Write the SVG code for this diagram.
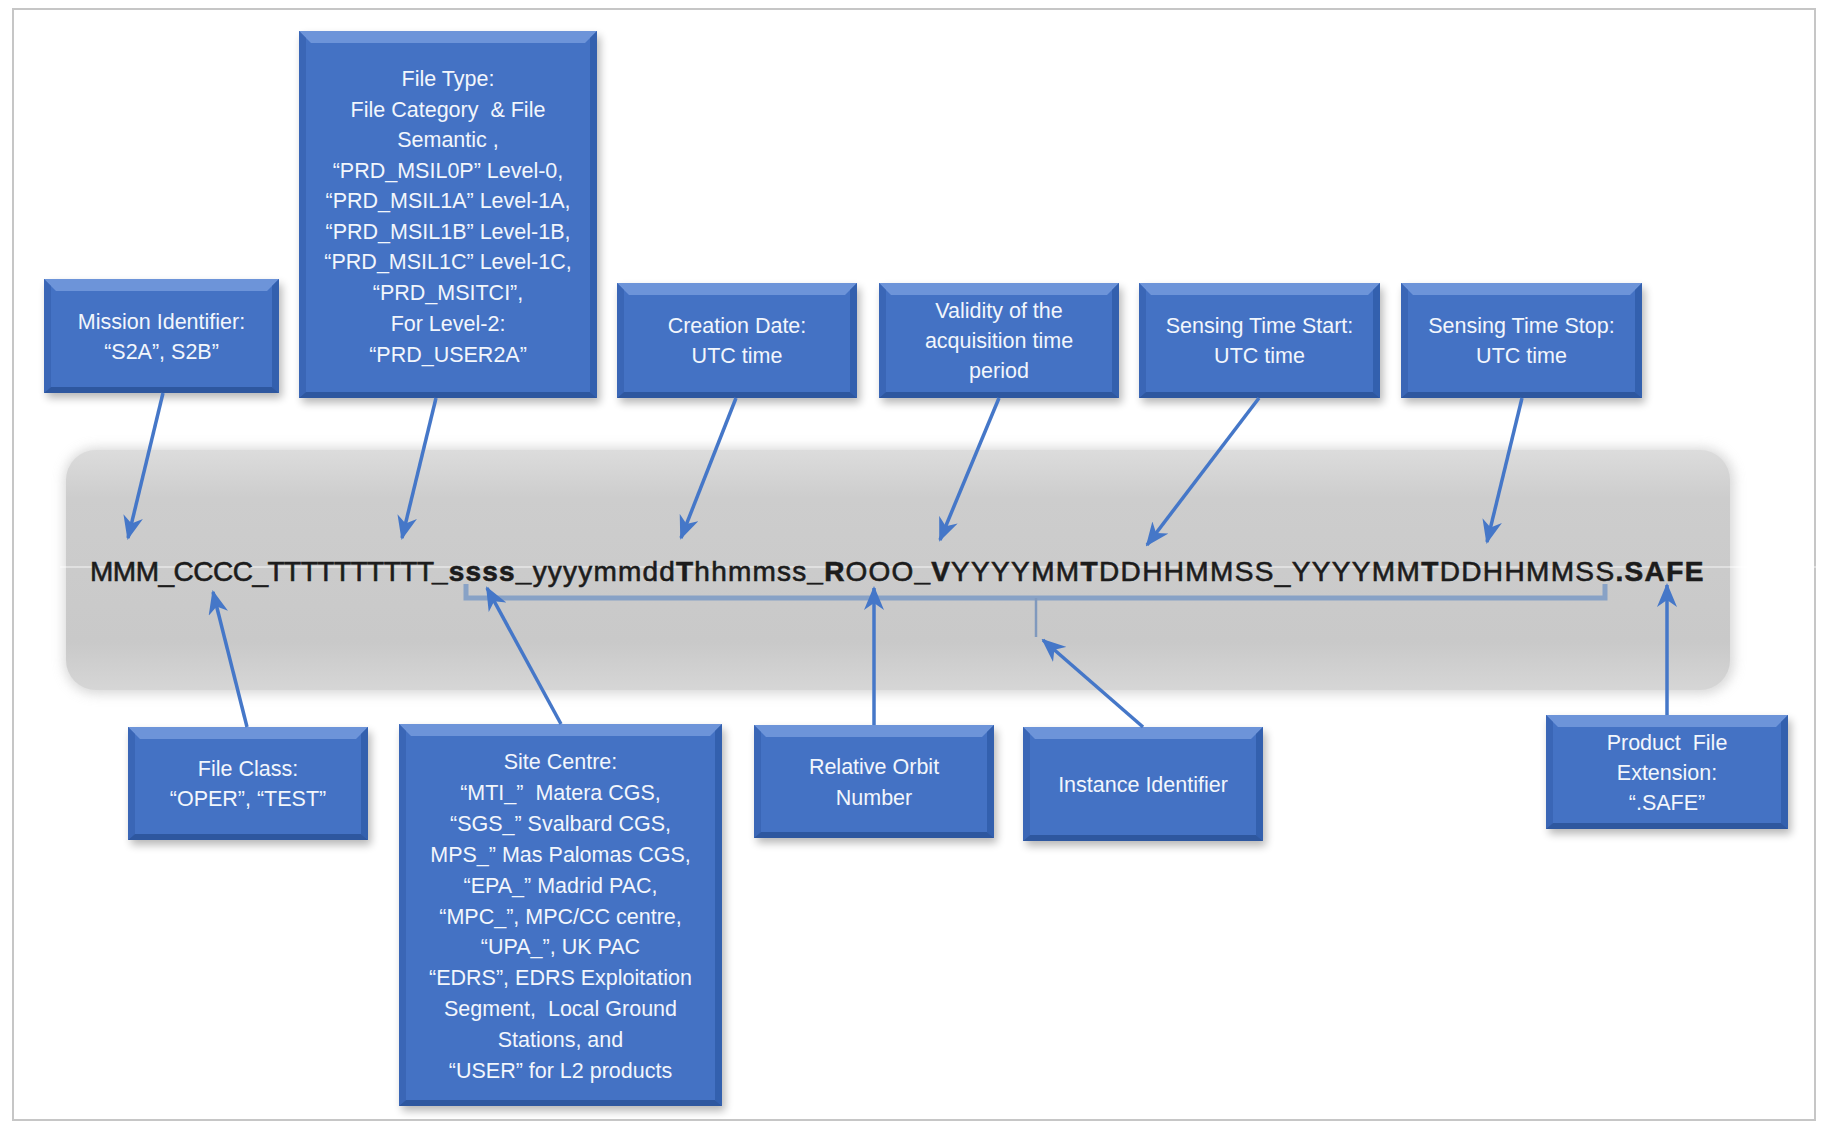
<svg xmlns="http://www.w3.org/2000/svg" width="1825" height="1125" viewBox="0 0 1825 1125">
<style>
.frame{fill:#ffffff;stroke:#c6c6c6;stroke-width:2}
.body{fill:#4472c4}
.bt{fill:#6d94d9}
.bl{fill:#3a66b6}
.br{fill:#3360ae}
.bb{fill:#2e579f}
.shadow{fill:#000;opacity:.28;filter:url(#blur)}
.lbl{font-family:"Liberation Sans",Arial,sans-serif;font-size:21.5px;fill:#f2f6fc;text-anchor:middle}
.arrow{fill:none;stroke:#4577c8;stroke-width:3.5;marker-end:url(#ah)}
.brk{fill:none;stroke:#88a2c6;stroke-width:5}
.tick{fill:none;stroke:#8099bd;stroke-width:2.5}
.fname{font-family:"Liberation Sans",Arial,sans-serif;font-size:28px;fill:#1c1c1c;stroke:#1c1c1c;stroke-width:0.6}
.b{font-weight:bold}
</style>
<defs>
<filter id="blur" x="-10%" y="-10%" width="120%" height="120%"><feGaussianBlur stdDeviation="4"/></filter>
<filter id="bandblur" x="-5%" y="-20%" width="110%" height="140%"><feGaussianBlur stdDeviation="6"/></filter>
<linearGradient id="bandg" x1="0" y1="0" x2="0" y2="1">
<stop offset="0" stop-color="#dcdcdc"/>
<stop offset="0.2" stop-color="#cdcdcd"/>
<stop offset="0.8" stop-color="#c9c9c9"/>
<stop offset="1" stop-color="#d6d6d6"/>
</linearGradient>
<marker id="ah" markerUnits="userSpaceOnUse" markerWidth="24" markerHeight="20" refX="22" refY="10" orient="auto">
<path d="M0,0 L24,10 L0,20 L7,10 z" fill="#4577c8"/>
</marker>
</defs>

<rect class="frame" x="13" y="9" width="1802" height="1111"/>

<g id="band">
<rect x="64" y="448" width="1670" height="246" rx="32" fill="#bdbdbd" opacity="0.6" filter="url(#bandblur)"/>
<rect x="66" y="450" width="1664" height="240" rx="30" fill="url(#bandg)"/>
</g>

<g id="bracket">
<path class="brk" d="M466,584 L466,598 L1605,598 L1605,584"/>
<path class="tick" d="M1036,598 L1036,637"/>
</g>

<g id="filename">
<line x1="60" y1="567" x2="1825" y2="567" stroke="#ffffff" stroke-width="1.2" opacity="0.8"/>
<text class="fname" y="581"><tspan x="90" letter-spacing="-0.5">MMM_CCCC_TTTTTTTTTT</tspan><tspan x="432" letter-spacing="1.2"><tspan class="b">_ssss_</tspan>yyyymmdd<tspan class="b">T</tspan>hhmmss<tspan class="b">_R</tspan>OOO<tspan class="b">_V</tspan></tspan><tspan x="951" letter-spacing="1.36">YYYYMM<tspan class="b">T</tspan>DDHHMMSS_YYYYMM<tspan class="b">T</tspan>DDHHMMSS<tspan class="b">.SAFE</tspan></tspan></text>
</g>

<g id="mission">
<rect class="shadow" x="47" y="284" width="235" height="114"/>
<rect class="body" x="44" y="279" width="235" height="114"/>
<polygon class="bt" points="44,279 279,279 267,291 56,291"/>
<polygon class="bl" points="44,279 51,286 51,387 44,393"/>
<polygon class="br" points="279,279 272,286 272,387 279,393"/>
<polygon class="bb" points="44,393 51,387 272,387 279,393"/>
<text class="lbl" x="161.5" y="329">Mission Identifier:</text>
<text class="lbl" x="161.5" y="359">“S2A”, S2B”</text>
</g>

<g id="filetype">
<rect class="shadow" x="302" y="36" width="298" height="367"/>
<rect class="body" x="299" y="31" width="298" height="367"/>
<polygon class="bt" points="299,31 597,31 585,43 311,43"/>
<polygon class="bl" points="299,31 306,38 306,392 299,398"/>
<polygon class="br" points="597,31 590,38 590,392 597,398"/>
<polygon class="bb" points="299,398 306,392 590,392 597,398"/>
<text class="lbl" x="448" y="86">File Type:</text>
<text class="lbl" x="448" y="116.5" xml:space="preserve">File Category  &amp; File</text>
<text class="lbl" x="448" y="147">Semantic ,</text>
<text class="lbl" x="448" y="177.5">“PRD_MSIL0P” Level-0,</text>
<text class="lbl" x="448" y="208">“PRD_MSIL1A” Level-1A,</text>
<text class="lbl" x="448" y="238.5">“PRD_MSIL1B” Level-1B,</text>
<text class="lbl" x="448" y="269">“PRD_MSIL1C” Level-1C,</text>
<text class="lbl" x="448" y="299.5">“PRD_MSITCI”,</text>
<text class="lbl" x="448" y="331">For Level-2:</text>
<text class="lbl" x="448" y="362">“PRD_USER2A”</text>
</g>

<g id="creation">
<rect class="shadow" x="620" y="288" width="240" height="115"/>
<rect class="body" x="617" y="283" width="240" height="115"/>
<polygon class="bt" points="617,283 857,283 845,295 629,295"/>
<polygon class="bl" points="617,283 624,290 624,392 617,398"/>
<polygon class="br" points="857,283 850,290 850,392 857,398"/>
<polygon class="bb" points="617,398 624,392 850,392 857,398"/>
<text class="lbl" x="737" y="333">Creation Date:</text>
<text class="lbl" x="737" y="363">UTC time</text>
</g>

<g id="validity">
<rect class="shadow" x="882" y="288" width="240" height="115"/>
<rect class="body" x="879" y="283" width="240" height="115"/>
<polygon class="bt" points="879,283 1119,283 1107,295 891,295"/>
<polygon class="bl" points="879,283 886,290 886,392 879,398"/>
<polygon class="br" points="1119,283 1112,290 1112,392 1119,398"/>
<polygon class="bb" points="879,398 886,392 1112,392 1119,398"/>
<text class="lbl" x="999" y="318">Validity of the</text>
<text class="lbl" x="999" y="348">acquisition time</text>
<text class="lbl" x="999" y="378">period</text>
</g>

<g id="sensing-start">
<rect class="shadow" x="1142" y="288" width="241" height="115"/>
<rect class="body" x="1139" y="283" width="241" height="115"/>
<polygon class="bt" points="1139,283 1380,283 1368,295 1151,295"/>
<polygon class="bl" points="1139,283 1146,290 1146,392 1139,398"/>
<polygon class="br" points="1380,283 1373,290 1373,392 1380,398"/>
<polygon class="bb" points="1139,398 1146,392 1373,392 1380,398"/>
<text class="lbl" x="1259.5" y="333">Sensing Time Start:</text>
<text class="lbl" x="1259.5" y="363">UTC time</text>
</g>

<g id="sensing-stop">
<rect class="shadow" x="1404" y="288" width="241" height="115"/>
<rect class="body" x="1401" y="283" width="241" height="115"/>
<polygon class="bt" points="1401,283 1642,283 1630,295 1413,295"/>
<polygon class="bl" points="1401,283 1408,290 1408,392 1401,398"/>
<polygon class="br" points="1642,283 1635,290 1635,392 1642,398"/>
<polygon class="bb" points="1401,398 1408,392 1635,392 1642,398"/>
<text class="lbl" x="1521.5" y="333">Sensing Time Stop:</text>
<text class="lbl" x="1521.5" y="363">UTC time</text>
</g>

<g id="file-class">
<rect class="shadow" x="131" y="732" width="240" height="113"/>
<rect class="body" x="128" y="727" width="240" height="113"/>
<polygon class="bt" points="128,727 368,727 356,739 140,739"/>
<polygon class="bl" points="128,727 135,734 135,834 128,840"/>
<polygon class="br" points="368,727 361,734 361,834 368,840"/>
<polygon class="bb" points="128,840 135,834 361,834 368,840"/>
<text class="lbl" x="248" y="776">File Class:</text>
<text class="lbl" x="248" y="806">“OPER”, “TEST”</text>
</g>

<g id="site-centre">
<rect class="shadow" x="402" y="729" width="323" height="382"/>
<rect class="body" x="399" y="724" width="323" height="382"/>
<polygon class="bt" points="399,724 722,724 710,736 411,736"/>
<polygon class="bl" points="399,724 406,731 406,1100 399,1106"/>
<polygon class="br" points="722,724 715,731 715,1100 722,1106"/>
<polygon class="bb" points="399,1106 406,1100 715,1100 722,1106"/>
<text class="lbl" x="560.5" y="769">Site Centre:</text>
<text class="lbl" x="560.5" y="800" xml:space="preserve">“MTI_”  Matera CGS,</text>
<text class="lbl" x="560.5" y="831">“SGS_” Svalbard CGS,</text>
<text class="lbl" x="560.5" y="862">MPS_” Mas Palomas CGS,</text>
<text class="lbl" x="560.5" y="893">“EPA_” Madrid PAC,</text>
<text class="lbl" x="560.5" y="924">“MPC_”, MPC/CC centre,</text>
<text class="lbl" x="560.5" y="954">“UPA_”, UK PAC</text>
<text class="lbl" x="560.5" y="985">“EDRS”, EDRS Exploitation</text>
<text class="lbl" x="560.5" y="1016" xml:space="preserve">Segment,  Local Ground</text>
<text class="lbl" x="560.5" y="1047">Stations, and</text>
<text class="lbl" x="560.5" y="1078">“USER” for L2 products</text>
</g>

<g id="relative-orbit">
<rect class="shadow" x="757" y="730" width="240" height="113"/>
<rect class="body" x="754" y="725" width="240" height="113"/>
<polygon class="bt" points="754,725 994,725 982,737 766,737"/>
<polygon class="bl" points="754,725 761,732 761,832 754,838"/>
<polygon class="br" points="994,725 987,732 987,832 994,838"/>
<polygon class="bb" points="754,838 761,832 987,832 994,838"/>
<text class="lbl" x="874" y="774">Relative Orbit</text>
<text class="lbl" x="874" y="805">Number</text>
</g>

<g id="instance">
<rect class="shadow" x="1026" y="732" width="240" height="114"/>
<rect class="body" x="1023" y="727" width="240" height="114"/>
<polygon class="bt" points="1023,727 1263,727 1251,739 1035,739"/>
<polygon class="bl" points="1023,727 1030,734 1030,835 1023,841"/>
<polygon class="br" points="1263,727 1256,734 1256,835 1263,841"/>
<polygon class="bb" points="1023,841 1030,835 1256,835 1263,841"/>
<text class="lbl" x="1143" y="792">Instance Identifier</text>
</g>

<g id="product-ext">
<rect class="shadow" x="1549" y="720" width="242" height="114"/>
<rect class="body" x="1546" y="715" width="242" height="114"/>
<polygon class="bt" points="1546,715 1788,715 1776,727 1558,727"/>
<polygon class="bl" points="1546,715 1553,722 1553,823 1546,829"/>
<polygon class="br" points="1788,715 1781,722 1781,823 1788,829"/>
<polygon class="bb" points="1546,829 1553,823 1781,823 1788,829"/>
<text class="lbl" x="1667" y="750" xml:space="preserve">Product  File</text>
<text class="lbl" x="1667" y="780">Extension:</text>
<text class="lbl" x="1667" y="810">“.SAFE”</text>
</g>

<g id="connectors">
<line class="arrow" x1="163" y1="393" x2="128" y2="538"/>
<line class="arrow" x1="436" y1="398" x2="402" y2="538"/>
<line class="arrow" x1="736" y1="398" x2="681" y2="538"/>
<line class="arrow" x1="999" y1="398" x2="940" y2="540"/>
<line class="arrow" x1="1259" y1="398" x2="1147" y2="545"/>
<line class="arrow" x1="1522" y1="398" x2="1487" y2="542"/>
<line class="arrow" x1="247" y1="727" x2="213" y2="592"/>
<line class="arrow" x1="561" y1="724" x2="487" y2="588"/>
<line class="arrow" x1="874" y1="725" x2="874" y2="588"/>
<line class="arrow" x1="1143" y1="727" x2="1043" y2="640"/>
<line class="arrow" x1="1667" y1="715" x2="1667" y2="585"/>
</g>
</svg>
